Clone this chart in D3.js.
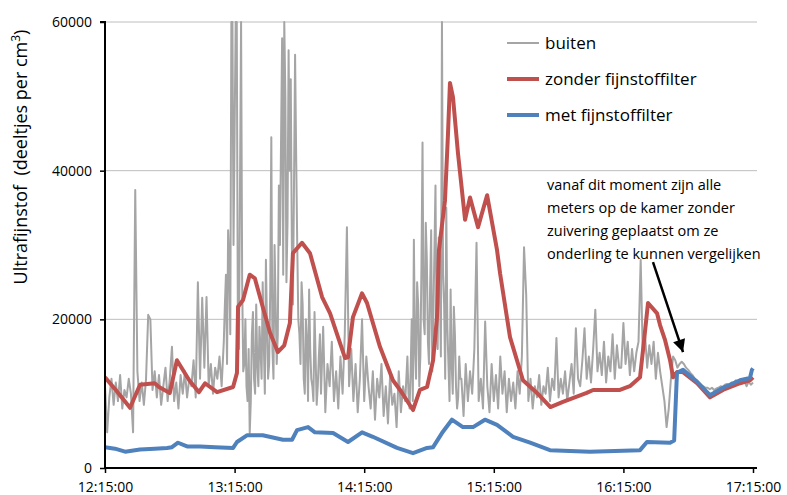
<!DOCTYPE html>
<html>
<head>
<meta charset="utf-8">
<script src="https://cdn.jsdelivr.net/npm/d3@7"></script>
<style>
  html, body { margin: 0; padding: 0; background: #fff; }
  svg { display: block; }
  text { font-family: "Open Sans", "Noto Sans", sans-serif; fill: #000; }
</style>
</head>
<body>
<svg id="chart" width="787" height="495"></svg>
<script>
// ---- DATA (time = minutes after 12:15:00) ----
const startTime = "12:15:00";
const tickLabels = ["12:15:00", "13:15:00", "14:15:00", "15:15:00", "16:15:00", "17:15:00"];
const yTicks = [0, 20000, 40000, 60000];
const seriesNames = ["buiten", "zonder fijnstoffilter", "met fijnstoffilter"];

// buiten: one reading per minute, t = 0..300
const buiten = [
  11000, 4800, 9500, 12000, 8500, 11500, 9000, 12500, 8000, 10500,
  9500, 12000, 10000, 4800, 37400, 13000, 9000, 11500, 8500, 12000,
  20600, 20000, 10500, 13000, 9500, 12500, 8500, 11000, 13500, 9000,
  12000, 16300, 9000, 11500, 8000, 12500, 10000, 13000, 9500, 12000,
  11000, 14500, 9500, 25000, 12000, 22900, 13500, 23000, 11000, 14000,
  10000, 13500, 12000, 15000, 11000, 17000, 26000, 32000, 18000, 60000,
  45000, 60000, 16000, 60000, 13000, 20000, 9000, 4700, 18000, 12000,
  22000, 11000, 16000, 25000, 10000, 19000, 14000, 44500, 12000, 22000,
  18000, 30000, 57800, 60000, 25000, 56200, 52300, 22000, 55600, 30000,
  18000, 25000, 12000, 20000, 9000, 16000, 11000, 21000, 8500, 15000,
  10000, 19000, 7500, 14000, 11000, 17000, 9000, 13000, 8000, 15000,
  10000, 18000, 32400, 11000, 16000, 9000, 14000, 7500, 12000, 20000,
  9000, 15000, 11000, 8000, 13000, 6500, 12000, 9500, 14000, 7000,
  11000, 6000, 12500, 8500, 10000, 5500, 13000, 7500, 11000, 9000,
  15000, 8000, 20000, 30700, 12000, 22000, 15000, 43800, 18000, 28000,
  14000, 32000, 20000, 38000, 16000, 25000, 60000, 22000, 35000, 14000,
  24000, 10000, 18000, 8000, 15000, 12000, 7000, 14000, 9000, 13000,
  10000, 16000, 30300, 9000, 12000, 8000, 19700, 11000, 7500, 14000,
  9000, 12500, 8000, 15000, 10000, 13000, 7500, 12000, 9000, 11500,
  8000, 13000, 10000, 15000, 29700, 23300, 9000, 12000, 8000, 11000,
  9500, 12500, 8500, 11000, 10000, 13500, 9000, 12000, 10500, 17500,
  9500, 12000, 10000, 13000, 9000, 11500, 14000, 10000, 18800, 12000,
  11000, 14500, 18800, 12000, 15000, 11500, 16000, 21300, 13000, 15500,
  12500, 17000, 11500, 15000, 13000, 18000, 12000, 16500, 13500, 13500,
  19500, 14000, 17000, 12500, 16000, 13000, 15500, 17000, 28000, 15000,
  18000, 13500, 16500, 14000, 17000, 12000, 15500, 13000, 11000, 9000,
  5500, 8000, 12000, 15000, 14500, 13500, 14000, 14300, 14000, 13500,
  13200, 12800, 12500, 12000, 11800, 11500, 11200, 11000, 10800, 10800,
  10600, 10800, 10500, 10700, 10800, 11000, 10900, 11200, 11300, 11100,
  11500, 11400, 11800, 11600, 11900, 11500, 11700, 11000, 11600, 11200, 11500
];

// extra half-minute buiten readings in the busiest periods: [minute, value]
const buitenExtra = [
  [55.5, 22000], [56.5, 14000], [57.5, 28000], [58.5, 60000], [59.5, 30000], [60.5, 60000],
  [61.5, 20000], [62.5, 38000], [63.5, 25000], [64.5, 14000], [65.5, 11000], [66.5, 16000],
  [67.5, 9000], [68.5, 21000], [69.5, 10000], [70.5, 14000], [71.5, 19000], [72.5, 12000],
  [73.5, 17000], [74.5, 28000], [75.5, 12000], [76.5, 24000], [77.5, 16000], [78.5, 30000],
  [79.5, 14000], [80.5, 38000], [81.5, 44000], [82.5, 26000], [83.5, 50000], [84.5, 33000],
  [85.5, 40000], [86.5, 30000], [87.5, 38000], [88.5, 42000], [89.5, 20000], [90.5, 14000],
  [91.5, 22000], [92.5, 10000], [93.5, 17000], [94.5, 24000], [95.5, 12000], [96.5, 9000],
  [97.5, 15000], [98.5, 11000], [99.5, 18000],
  [140.5, 10000], [141.5, 13000], [142.5, 9000], [143.5, 16000], [144.5, 25000], [145.5, 11000],
  [146.5, 27000], [147.5, 20000], [148.5, 33000], [149.5, 17000], [150.5, 24000], [151.5, 13000],
  [152.5, 29000], [153.5, 18000], [154.5, 31000], [155.5, 15000], [156.5, 26000], [157.5, 12000],
  [158.5, 19000], [159.5, 9000], [160.5, 14000], [161.5, 21700], [162.5, 11000], [163.5, 9500],
  [164.5, 12000]
];

// zonder fijnstoffilter: [minute, value]
const zonder = [
  [0, 12200], [5, 10500], [11.6, 8100], [16.2, 11200], [23, 11400], [25, 10900],
  [30, 10100], [33.3, 14500], [39, 11800], [43.5, 10200], [46.3, 11400], [51.9, 10200],
  [59.3, 10900], [61.1, 12800], [61.6, 21700], [63.9, 22600], [67, 26000], [69.4, 25500],
  [73, 21700], [76.4, 18200], [80, 15600], [83, 16500], [85.6, 19500], [87, 28900],
  [91.2, 30300], [94.9, 28900], [100.5, 23000], [104.2, 20800], [111.1, 14800], [112.5, 14900],
  [114.8, 20300], [119, 23500], [121.3, 22200], [127.3, 16300], [133.3, 11800], [136.6, 10500],
  [142.6, 7800], [145.8, 10500], [149.1, 10900], [151.9, 14500], [153.7, 20300], [154.6, 29300],
  [157.4, 36000], [158.8, 45000], [159.7, 51800], [161.1, 49900], [163.4, 42400], [166.7, 33400],
  [169, 36400], [172.7, 32400], [176.9, 36700], [181.5, 29300], [182.9, 26200], [187.5, 17600],
  [193.5, 11800], [200, 10100], [206.2, 8200], [212, 8900], [223, 10100], [226, 10500],
  [238.4, 10500], [243, 11000], [247.7, 12200], [249.5, 17000], [251.4, 22200], [255.6, 20800],
  [257, 19200], [259.3, 17200], [261.6, 14500], [263, 12200], [264.8, 12900], [267.6, 12900],
  [274.1, 11400], [280.1, 9500], [286.1, 10500], [294, 11400], [298.6, 11800], [300, 12200]
];

// met fijnstoffilter: [minute, value]
const met = [
  [0, 2800], [4.6, 2600], [9.3, 2200], [16.2, 2500], [23, 2600], [28.7, 2700],
  [31, 2800], [33.8, 3400], [38, 2900], [44, 2900], [51, 2800], [59.3, 2700],
  [61.1, 3500], [65.7, 4400], [73, 4400], [82.4, 3800], [86.6, 3800], [88.9, 5100],
  [94, 5500], [97.2, 4800], [105.6, 4700], [112.5, 3500], [119, 4800], [124, 4200],
  [135.2, 2700], [142.6, 2000], [149.1, 2700], [151.9, 2800], [156, 4700], [160.6, 6500],
  [165.7, 5500], [170.4, 5500], [175.9, 6500], [181.5, 5800], [188.9, 4200], [196.8, 3400],
  [206, 2400], [224.5, 2200], [247.7, 2400], [250.9, 3500], [261.6, 3400], [263.5, 3700],
  [264.8, 12800], [267.6, 13200], [274.1, 11600], [280.1, 9800], [286.1, 10800], [294, 11800],
  [298.6, 12100], [299.5, 13200], [300, 13400]
];

const annotationLines = [
  "vanaf dit moment zijn alle",
  "meters op de kamer zonder",
  "zuivering geplaatst om ze",
  "onderling te kunnen vergelijken"
];
// arrow from/to in data terms [minute, value]
const arrowFrom = [253.7, 27700];
const arrowTo = [267.6, 15600];

// ---- CHART ----
const svg = d3.select("#chart");
const mL = 105, mR = 753, mT = 22, mB = 468;
const parse = d3.timeParse("%H:%M:%S");
const t0 = parse(startTime);
const toDate = m => new Date(t0.getTime() + m * 60000);

const x = d3.scaleTime().domain([toDate(0), toDate(300)]).range([mL, mR]);
const y = d3.scaleLinear().domain([0, 60000]).range([mB, mT]);

const colors = { buiten: "#A5A5A5", zonder: "#C0504D", met: "#4F81BD" };

// gridlines
svg.append("g").selectAll("line").data(yTicks.filter(d => d > 0)).join("line")
  .attr("x1", mL).attr("x2", mR + 4)
  .attr("y1", d => y(d)).attr("y2", d => y(d))
  .attr("stroke", "#BEBEBE").attr("stroke-width", 1);

const line = d3.line().x(d => x(toDate(d[0]))).y(d => y(Math.min(60000, d[1])));
const defs = svg.append("defs");
defs.append("clipPath").attr("id", "clip")
  .append("rect").attr("x", mL).attr("y", mT - 1).attr("width", mR - mL + 6).attr("height", mB - mT + 1);

const buitenAll = buiten.map((v, i) => [i, v]).concat(buitenExtra).sort((a, b) => a[0] - b[0]);

const plot = svg.append("g").attr("clip-path", "url(#clip)");
plot.append("path").datum(buitenAll)
  .attr("d", line).attr("fill", "none").attr("stroke", colors.buiten).attr("stroke-width", 2).attr("stroke-linejoin", "round");
plot.append("path").datum(zonder)
  .attr("d", line).attr("fill", "none").attr("stroke", colors.zonder).attr("stroke-width", 4).attr("stroke-linejoin", "round");
plot.append("path").datum(met)
  .attr("d", line).attr("fill", "none").attr("stroke", colors.met).attr("stroke-width", 4).attr("stroke-linejoin", "round");

// axes
const yAxis = d3.axisLeft(y).tickValues(yTicks).tickSize(5).tickPadding(8).tickFormat(d3.format("d"));
const gy = svg.append("g").attr("transform", `translate(${mL},0)`).call(yAxis);
gy.select(".domain").attr("stroke", "#000").attr("stroke-width", 2).attr("d", `M-5,${mT}H0V${mB}`);
gy.selectAll(".tick line").attr("stroke", "#000").attr("stroke-width", 1.5);
gy.selectAll(".tick text").attr("font-size", 14).attr("font-family", "Open Sans, sans-serif").attr("fill", "#000");

const xTickDates = tickLabels.map(s => parse(s));
const xAxis = d3.axisBottom(x).tickValues(xTickDates).tickSize(5).tickPadding(9).tickFormat(d3.timeFormat("%H:%M:%S"));
const gx = svg.append("g").attr("transform", `translate(0,${mB})`).call(xAxis);
gx.select(".domain").attr("stroke", "#000").attr("stroke-width", 2).attr("d", `M${mL},0H${mR + 4}`);
gx.selectAll(".tick line").attr("stroke", "#000").attr("stroke-width", 1.5);
gx.selectAll(".tick text").attr("font-size", 14).attr("font-family", "Open Sans, sans-serif").attr("fill", "#000");

// y title
svg.append("text")
  .attr("transform", `translate(27,157) rotate(-90)`)
  .attr("text-anchor", "middle").attr("font-size", 18)
  .html('Ultrafijnstof&#160;&#160;(deeltjes per cm<tspan dy="-7" font-size="12">3</tspan><tspan dy="7">)</tspan>');

// legend
const legend = [
  { name: seriesNames[0], color: colors.buiten, w: 2 },
  { name: seriesNames[1], color: colors.zonder, w: 4 },
  { name: seriesNames[2], color: colors.met, w: 4 }
];
const lg = svg.append("g");
legend.forEach((d, i) => {
  const yy = 43 + i * 36;
  lg.append("line").attr("x1", 507).attr("x2", 539).attr("y1", yy).attr("y2", yy)
    .attr("stroke", d.color).attr("stroke-width", d.w);
  lg.append("text").attr("x", 545).attr("y", yy + 6).attr("font-size", 17).text(d.name);
});

// annotation
const ann = svg.append("g");
annotationLines.forEach((s, i) => {
  ann.append("text").attr("x", 547).attr("y", 190 + i * 23).attr("font-size", 14.5).text(s);
});

defs.append("marker").attr("id", "arrow")
  .attr("viewBox", "0 0 10 10").attr("refX", 10).attr("refY", 5)
  .attr("markerWidth", 6).attr("markerHeight", 5).attr("orient", "auto")
  .attr("markerUnits", "strokeWidth")
  .append("path").attr("d", "M0,0L10,5L0,10Z").attr("fill", "#000");
svg.append("line")
  .attr("x1", x(toDate(arrowFrom[0]))).attr("y1", y(arrowFrom[1]))
  .attr("x2", x(toDate(arrowTo[0]))).attr("y2", y(arrowTo[1]))
  .attr("stroke", "#000").attr("stroke-width", 2.5).attr("marker-end", "url(#arrow)");
</script>
</body>
</html>
